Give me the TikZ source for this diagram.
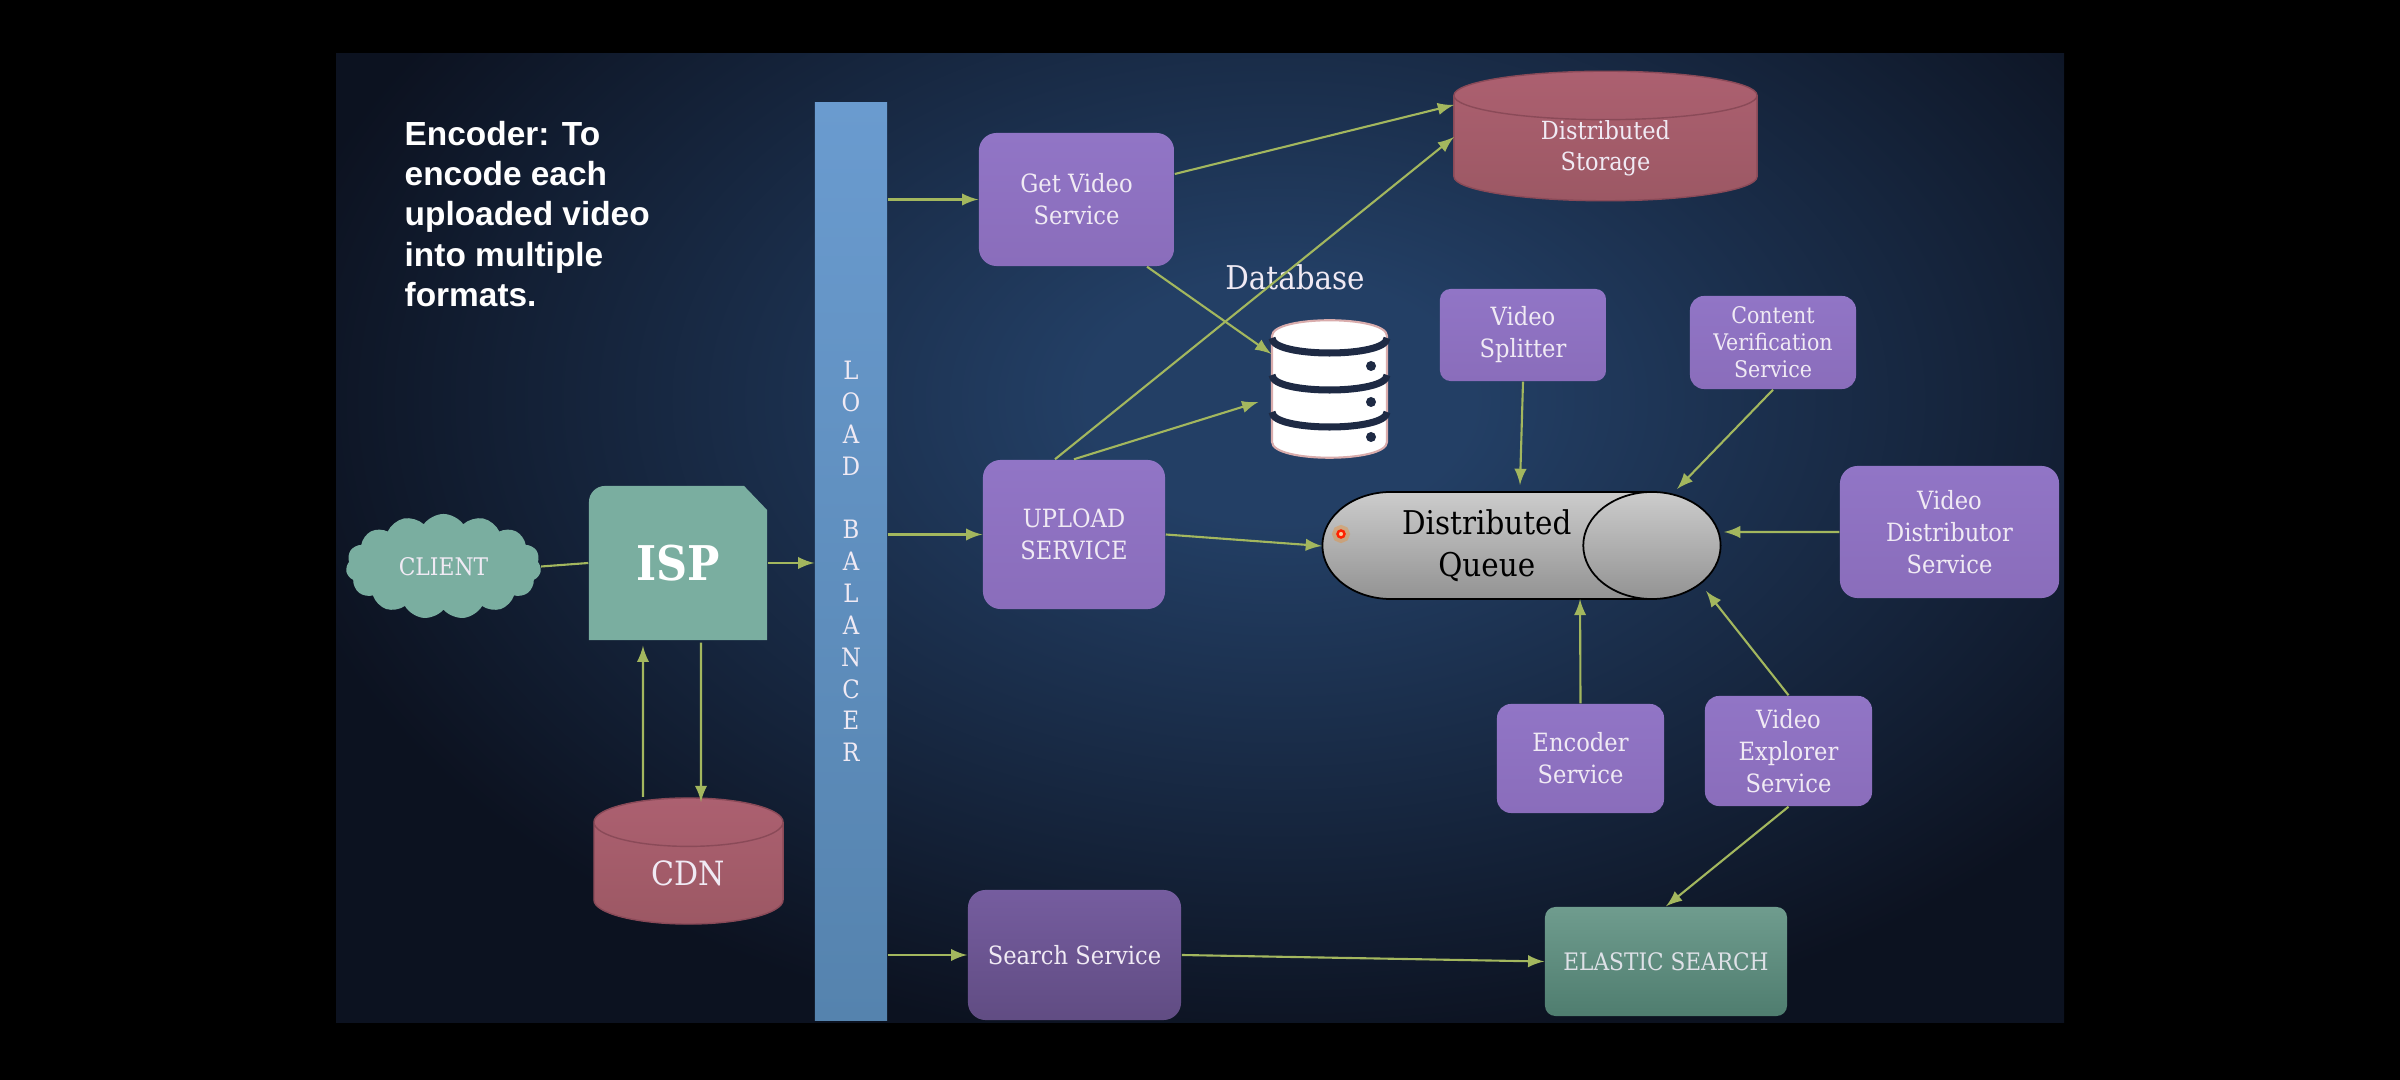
\documentclass[tikz,border=0pt]{standalone}
\usepackage{fontspec}
\setmainfont{DejaVu Serif Condensed}
\newfontfamily\notefont{Liberation Sans}
\usetikzlibrary{shapes.geometric,shapes.symbols}
\definecolor{slideglow}{HTML}{233F65}
\definecolor{slidedark}{HTML}{0C1220}
\definecolor{flowline}{HTML}{A3B75E}
\definecolor{paletext}{HTML}{F0EAF4}
\definecolor{purple1}{HTML}{9175C6}
\definecolor{purple2}{HTML}{8A6DBB}
\definecolor{drum1}{HTML}{AC6070}
\definecolor{drum2}{HTML}{9C5864}
\definecolor{drumedge}{HTML}{8A4A58}
\definecolor{tealbox}{HTML}{7AAEA0}
\definecolor{band}{HTML}{1E2A44}
\definecolor{balancer1}{HTML}{6A9BCF}
\definecolor{balancer2}{HTML}{5583AE}
\definecolor{elastic1}{HTML}{6F9C8E}
\definecolor{elastic2}{HTML}{4F7D6F}
\pgfdeclareradialshading{slidewash}{\pgfpoint{0bp}{0bp}}{color(0bp)=(slideglow);color(3bp)=(slideglow);color(16bp)=(slidedark);color(100bp)=(slidedark)}
\tikzset{
  service/.style   = {shape=rectangle, rounded corners=5pt, align=center,
                      inner sep=0pt, text=paletext,
                      font=\fontsize{7.15}{9.1}\selectfont,
                      top color=purple1, bottom color=purple2},
  small/.style     = {service, rounded corners=4pt,
                      font=\fontsize{6.5}{7.7}\selectfont},
  drum/.style      = {shape=cylinder, shape border rotate=90, anchor=shape center,
                      inner sep=0pt, align=center, text=paletext, draw=drumedge,
                      top color=drum1, bottom color=drum2},
  flow/.style      = {draw=flowline, line width=.6pt, -latex},
  link/.style      = {draw=flowline, line width=.6pt}
}
\begin{document}
\begin{tikzpicture}[x=0.01cm,y=-0.01cm]
  \useasboundingbox (0,0) rectangle (2400,1080);
  \fill[black] (0,0) rectangle (2400,1080);
  \fill[slidedark] (336,54) rectangle (2064,1022);
  \begin{scope}
    \clip (336,54) rectangle (2064,1022);
    \shade[shading=slidewash] (1280,400) ellipse [x radius=1600, y radius=1024];
  \end{scope}

  \node (note) [anchor=west, align=left, inner sep=0pt, text=white, font=\notefont\bfseries\fontsize{9.5}{11.47}\selectfont]
    at (404,214) {Encoder: To\\encode each\\uploaded video\\into multiple\\formats.};

  \node (balancer) [shape=rectangle, minimum width=.72cm, minimum height=9.17cm, inner sep=0pt, align=center,
    top color=balancer1, bottom color=balancer2, text=paletext,
    font=\fontsize{7.2}{9.05}\selectfont] at (851,561.5)
    {L\\O\\A\\D\\~\\B\\A\\L\\A\\N\\C\\E\\R};

  \node (client) [shape=cloud, cloud puffs=15, cloud puff arc=110, aspect=1.9, inner sep=0pt,
    minimum width=1.95cm, minimum height=1.05cm, fill=tealbox, text=paletext,
    font=\fontsize{6.9}{8}\selectfont] at (443.5,566.5) {CLIENT\hspace{.12cm}};

  \node (isp) [shape=rectangle, minimum width=1.78cm, minimum height=1.54cm, inner sep=0pt, text=white,
    font=\bfseries\fontsize{13.6}{15}\selectfont,
    path picture={\fill[tealbox] (path picture bounding box.south west)
      -- ([yshift=-.16cm]path picture bounding box.north west)
      arc (180:90:.16cm) -- ([xshift=-.23cm]path picture bounding box.north east)
      -- ([yshift=-.24cm]path picture bounding box.north east)
      -- (path picture bounding box.south east) -- cycle;}] at (678,563) {ISP};

  \node (cdn) [drum, minimum width=1.89cm, minimum height=1.26cm, aspect=.66,
    font=\fontsize{9.5}{11}\selectfont] at (688.5,861) {CDN};
  \node (storage) [drum, minimum width=3.03cm, minimum height=1.28cm, aspect=.375,
    font=\fontsize{7.1}{9}\selectfont] at (1605.5,136) {Distributed\\Storage};

  \node (getvideo) [service, minimum width=1.95cm, minimum height=1.33cm] at (1076.5,199.5) {Get Video\\Service};
  \node (upload) [service, minimum width=1.82cm, minimum height=1.49cm] at (1074,534.5) {UPLOAD\\SERVICE};
  \node (search) [service, top color=purple2!85!black, bottom color=purple2!70!black,
    minimum width=2.13cm, minimum height=1.30cm] at (1074.5,955) {Search Service};
  \node (splitter) [service, rounded corners=3pt, minimum width=1.66cm, minimum height=.92cm] at (1523,335) {Video\\Splitter};
  \node (content) [small, minimum width=1.66cm, minimum height=.93cm] at (1773,342.5) {Content\\Verification\\Service};
  \node (distributor) [service, minimum width=2.19cm, minimum height=1.32cm] at (1949.5,532) {Video\\Distributor\\Service};
  \node (encoder) [service, rounded corners=4pt, minimum width=1.67cm, minimum height=1.09cm] at (1580.5,758.5) {Encoder\\Service};
  \node (explorer) [service, rounded corners=4pt, minimum width=1.67cm, minimum height=1.10cm] at (1788.5,751) {Video\\Explorer\\Service};
  \node (elastic) [service, rounded corners=3pt, top color=elastic1, bottom color=elastic2,
    text=paletext!85!tealbox, font=\fontsize{6.85}{9}\selectfont, minimum width=2.42cm, minimum height=1.09cm] at (1666,961.5) {ELASTIC SEARCH};

  \node (queue) [shape=cylinder, anchor=shape center, aspect=1.9, draw=black, line width=.5pt, inner sep=0pt,
    minimum width=1.07cm, minimum height=3.98cm, align=center, top color=gray!40, bottom color=gray!85,
    font=\fontsize{9.3}{12}\selectfont] at (1521.5,545.5) {Distributed\\Queue};
  \node (pointer) [shape=circle, inner sep=0pt, minimum size=.07cm, draw=red!75!orange, fill=orange!40,
    line width=.7pt, preaction={draw=orange, line width=3pt, opacity=.3}] at (1341,534) {};

  \node (database) [text=paletext, font=\fontsize{9.3}{11}\selectfont] at (1295,277) {Database};

  \node (dbicon) [shape=rectangle, minimum width=1.15cm, minimum height=1.38cm, inner sep=0pt] at (1329.5,388) {};
  \fill[white, draw=pink!70!gray, line width=.6pt] (1272,336) .. controls (1272,315) and (1387,315) .. (1387,336)
    -- (1387,442) .. controls (1387,463) and (1272,463) .. (1272,442) -- cycle;
  \foreach \y/\dot in {338/366,375/402,412/437}{
    \draw[line width=2pt, color=band] (1272,\y) .. controls (1272,\y+20) and (1387,\y+20) .. (1387,\y);
    \fill[band] (1371,\dot) circle [radius=5];
  }

  \draw[link] (client.east) -- (isp.west);
  \draw[flow] (isp.east) -- (balancer.west |- isp.east);
  \draw[flow] ([xshift=-.455cm,yshift=.64cm]cdn.shape center) -- ([xshift=-.35cm,yshift=-.05cm]isp.south);
  \draw[flow] ([xshift=.23cm,yshift=-.02cm]isp.south) -- ([xshift=.125cm,yshift=.59cm]cdn.shape center);
  \draw[flow] (balancer.east |- getvideo.west) -- (getvideo.west);
  \draw[flow] (balancer.east |- upload.west) -- (upload.west);
  \draw[flow] (balancer.east |- search.west) -- (search.west);
  \draw[flow] ([yshift=.255cm]getvideo.east) -- ([xshift=-1.515cm,yshift=.31cm]storage.shape center);
  \draw[flow] ([xshift=.705cm]getvideo.south) -- ([yshift=.34cm]dbicon.west);
  \draw[flow] ([xshift=-.19cm]upload.north) -- ([xshift=-1.515cm,yshift=-.01cm]storage.shape center);
  \draw[flow] (upload.north) -- ([xshift=-.13cm,yshift=-.14cm]dbicon.west);
  \draw[flow] (upload.east) -- ([xshift=-1.995cm,yshift=-.005cm]queue.shape center);
  \draw[flow] (splitter.south) -- ([xshift=-.015cm,yshift=.605cm]queue.shape center);
  \draw[flow] (content.south) -- ([xshift=1.555cm,yshift=.565cm]queue.shape center);
  \draw[flow] (distributor.west) -- ([xshift=2.025cm,yshift=.135cm]queue.shape center);
  \draw[flow] (encoder.north) -- ([xshift=.585cm,yshift=-.535cm]queue.shape center);
  \draw[flow] (explorer.north) -- ([xshift=1.845cm,yshift=-.455cm]queue.shape center);
  \draw[flow] (explorer.south) -- (elastic.north);
  \draw[flow] (search.east) -- (elastic.west);
\end{tikzpicture}
\end{document}
